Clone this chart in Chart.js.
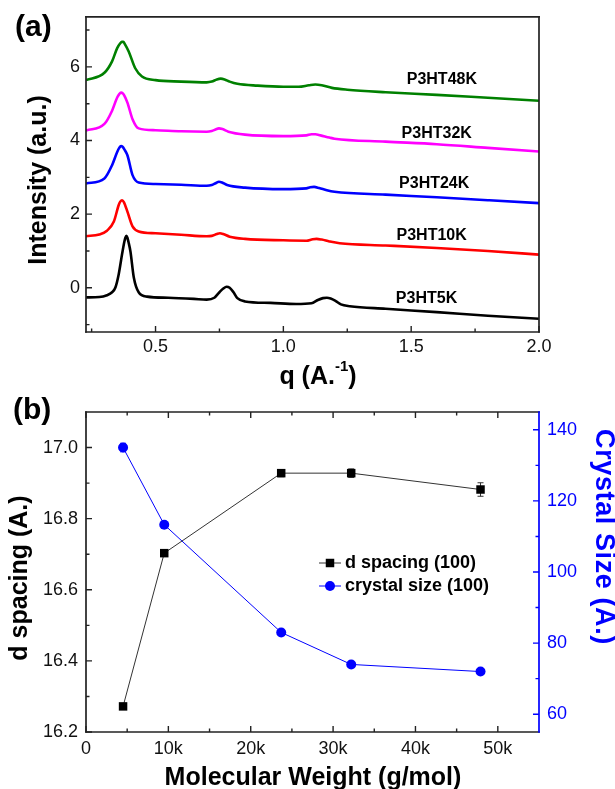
<!DOCTYPE html>
<html>
<head>
<meta charset="utf-8">
<title>P3HT WAXS</title>
<script src="https://cdn.jsdelivr.net/npm/chart.js@4.4.1/dist/chart.umd.min.js"></script>
<style>
  html, body { margin: 0; padding: 0; background: #fff; }
  canvas { display: block; }
</style>
</head>
<body>
<canvas id="chartA" width="615" height="390"></canvas>
<canvas id="chartB" width="615" height="399"></canvas>
<script>
(function () {
    'use strict';

    // ---- panel (a): scattering profiles, offset per sample ----
    var q5K  = [0.228, 0.28, 0.31, 0.33, 0.343, 0.356, 0.369, 0.378, 0.382, 0.386, 0.390, 0.394, 0.402, 0.415, 0.434, 0.467, 0.55, 0.65, 0.7, 0.73, 0.75, 0.765, 0.778, 0.79, 0.805, 0.82, 0.85, 0.95, 1.05, 1.11, 1.135, 1.155, 1.17, 1.185, 1.205, 1.225, 1.26, 1.4, 1.6, 1.8, 2.0];
    var i5K  = [-0.26, -0.25, -0.2, -0.12, 0.01, 0.37, 0.91, 1.25, 1.36, 1.41, 1.36, 1.25, 0.98, 0.28, -0.12, -0.24, -0.27, -0.30, -0.32, -0.27, -0.12, -0.02, 0.03, 0.0, -0.12, -0.28, -0.37, -0.41, -0.44, -0.42, -0.33, -0.28, -0.27, -0.29, -0.36, -0.45, -0.50, -0.57, -0.66, -0.76, -0.84];
    var q10K = [0.228, 0.28, 0.31, 0.337, 0.356, 0.362, 0.369, 0.376, 0.39, 0.41, 0.434, 0.5, 0.6, 0.7, 0.72, 0.74, 0.752, 0.765, 0.79, 0.85, 1.0, 1.09, 1.115, 1.13, 1.15, 1.18, 1.22, 1.4, 1.6, 1.8, 2.0];
    var i10K = [1.40, 1.45, 1.55, 1.80, 2.25, 2.34, 2.38, 2.33, 2.07, 1.67, 1.53, 1.48, 1.44, 1.40, 1.41, 1.46, 1.48, 1.46, 1.39, 1.33, 1.29, 1.28, 1.32, 1.33, 1.31, 1.26, 1.21, 1.15, 1.08, 1.00, 0.90];
    var q24K = [0.228, 0.30, 0.33, 0.35, 0.358, 0.365, 0.371, 0.378, 0.39, 0.41, 0.434, 0.5, 0.6, 0.7, 0.72, 0.735, 0.748, 0.76, 0.78, 0.85, 1.0, 1.09, 1.105, 1.12, 1.14, 1.17, 1.2, 1.4, 1.6, 1.8, 2.0];
    var i24K = [2.83, 2.97, 3.33, 3.69, 3.80, 3.85, 3.83, 3.76, 3.60, 3.06, 2.86, 2.82, 2.80, 2.77, 2.79, 2.84, 2.88, 2.86, 2.79, 2.72, 2.68, 2.70, 2.73, 2.74, 2.71, 2.65, 2.61, 2.53, 2.46, 2.38, 2.30];
    var q32K = [0.228, 0.30, 0.33, 0.35, 0.358, 0.365, 0.372, 0.378, 0.39, 0.41, 0.434, 0.5, 0.6, 0.7, 0.72, 0.735, 0.748, 0.762, 0.785, 0.85, 1.0, 1.09, 1.11, 1.125, 1.145, 1.18, 1.2, 1.4, 1.6, 1.8, 2.0];
    var i32K = [4.27, 4.45, 4.81, 5.17, 5.26, 5.30, 5.28, 5.22, 5.03, 4.58, 4.33, 4.28, 4.25, 4.24, 4.26, 4.30, 4.33, 4.31, 4.24, 4.16, 4.12, 4.14, 4.17, 4.17, 4.14, 4.08, 4.05, 3.97, 3.90, 3.80, 3.70];
    var q48K = [0.228, 0.30, 0.33, 0.35, 0.362, 0.368, 0.374, 0.38, 0.395, 0.42, 0.447, 0.5, 0.6, 0.7, 0.72, 0.74, 0.755, 0.77, 0.79, 0.82, 0.9, 1.0, 1.06, 1.1, 1.125, 1.15, 1.19, 1.25, 1.4, 1.6, 1.8, 2.0];
    var i48K = [5.64, 5.84, 6.15, 6.51, 6.64, 6.68, 6.68, 6.62, 6.42, 5.97, 5.74, 5.64, 5.60, 5.58, 5.60, 5.66, 5.68, 5.66, 5.60, 5.54, 5.49, 5.46, 5.46, 5.50, 5.52, 5.50, 5.43, 5.38, 5.31, 5.24, 5.16, 5.08];

    var sampleNames  = ['P3HT5K', 'P3HT10K', 'P3HT24K', 'P3HT32K', 'P3HT48K'];
    var sampleColors = ['#000000', '#ff0000', '#0000ff', '#ff00ff', '#008000'];
    var sampleLabelQ = [1.56, 1.58, 1.59, 1.60, 1.62];
    var sampleLabelI = [-0.29, 1.43, 2.82, 4.19, 5.65];

    var qTicks = [0.5, 1.0, 1.5, 2.0];
    var qMinorTicks = [0.25, 0.75, 1.25, 1.75];
    var intTicks = [0, 2, 4, 6];
    var intMinorTicks = [-1, 1, 3, 5, 7];

    // ---- panel (b): d spacing and crystal size vs molecular weight ----
    var molWeight = [4500, 9500, 23700, 32200, 47900];
    var dSpacing = [16.272, 16.703, 16.928, 16.928, 16.882];
    var dSpacingErr = [0.004, 0.005, 0.01, 0.012, 0.019];
    var crystalSize = [135.0, 113.3, 83.0, 74.0, 72.0];
    var crystalSizeErr = [1.2, 0.8, 0.6, 0.6, 0.6];

    var mwTicks = [0, 10000, 20000, 30000, 40000, 50000];
    var mwMinorTicks = [5000, 15000, 25000, 35000, 45000];
    var dTicks = [16.2, 16.4, 16.6, 16.8, 17.0];
    var dMinorTicks = [16.3, 16.5, 16.7, 16.9];
    var sizeTicks = [60, 80, 100, 120, 140];
    var sizeMinorTicks = [70, 90, 110, 130];

    var FONT = "'Liberation Sans', Arial, sans-serif";
    Chart.defaults.font.family = FONT;
    Chart.defaults.color = '#111';

    ////////////////////////////////////////////

    function points(xs, ys) {
        return xs.map(function (x, i) { return { x: x, y: ys[i] }; });
    }

    function useTicks(values) {
        return function (scale) {
            scale.ticks = values.map(function (v) { return { value: v }; });
        };
    }

    function fixSize(size) {
        return function (scale) {
            if (scale.isHorizontal()) scale.height = size;
            else scale.width = size;
        };
    }

    // frame + inward ticks, Origin style
    function originAxes(spec) {
        return {
            id: 'originAxes',
            afterDatasetsDraw: function (chart) {
                var ctx = chart.ctx, a = chart.chartArea;
                ctx.save();
                ctx.lineWidth = 1.4;
                spec.ticks.forEach(function (t) {
                    var scale = chart.scales[t.scale];
                    ctx.strokeStyle = t.color;
                    ctx.beginPath();
                    [[t.major, 6], [t.minor, 3.5]].forEach(function (set) {
                        set[0].forEach(function (v) {
                            var p = scale.getPixelForValue(v);
                            if (t.side === 'bottom') { ctx.moveTo(p, a.bottom); ctx.lineTo(p, a.bottom - set[1]); }
                            if (t.side === 'top') { ctx.moveTo(p, a.top); ctx.lineTo(p, a.top + set[1]); }
                            if (t.side === 'left') { ctx.moveTo(a.left, p); ctx.lineTo(a.left + set[1], p); }
                            if (t.side === 'right') { ctx.moveTo(a.right, p); ctx.lineTo(a.right - set[1], p); }
                        });
                    });
                    ctx.stroke();
                });
                ctx.lineWidth = 1.7;
                ctx.lineCap = 'square';
                spec.edges.forEach(function (e) {
                    ctx.strokeStyle = e.color;
                    ctx.beginPath();
                    if (e.side === 'top') { ctx.moveTo(a.left, a.top); ctx.lineTo(a.right, a.top); }
                    if (e.side === 'bottom') { ctx.moveTo(a.left, a.bottom); ctx.lineTo(a.right, a.bottom); }
                    if (e.side === 'left') { ctx.moveTo(a.left, a.top); ctx.lineTo(a.left, a.bottom); }
                    if (e.side === 'right') { ctx.moveTo(a.right, a.top); ctx.lineTo(a.right, a.bottom); }
                    ctx.stroke();
                });
                ctx.restore();
            }
        };
    }

    function drawText(ctx, it) {
        ctx.save();
        ctx.fillStyle = it.color || '#000';
        ctx.textBaseline = it.baseline || 'alphabetic';
        if (it.spacing) ctx.letterSpacing = it.spacing;
        ctx.translate(it.x, it.y);
        if (it.rotate) ctx.rotate(it.rotate);
        var parts = it.parts || [{ text: it.text, font: it.font, dy: 0 }];
        var total = 0;
        parts.forEach(function (p) { ctx.font = p.font; total += ctx.measureText(p.text).width; });
        var x = it.align === 'left' ? 0 : -total / 2;
        ctx.textAlign = 'left';
        parts.forEach(function (p) {
            ctx.font = p.font;
            ctx.fillText(p.text, x, p.dy || 0);
            x += ctx.measureText(p.text).width;
        });
        ctx.restore();
    }

    function panelText(items) {
        return {
            id: 'panelText',
            afterDraw: function (chart) {
                items.forEach(function (it) { drawText(chart.ctx, it); });
            }
        };
    }

    var sampleLabels = {
        id: 'sampleLabels',
        afterDatasetsDraw: function (chart) {
            var ctx = chart.ctx, xs = chart.scales.x, ys = chart.scales.y;
            ctx.save();
            ctx.font = 'bold 16px ' + FONT;
            ctx.fillStyle = '#000';
            ctx.textAlign = 'center';
            ctx.textBaseline = 'middle';
            sampleNames.forEach(function (name, i) {
                ctx.fillText(name, xs.getPixelForValue(sampleLabelQ[i]), ys.getPixelForValue(sampleLabelI[i]));
            });
            ctx.restore();
        }
    };

    var errorBars = {
        id: 'errorBars',
        beforeDatasetsDraw: function (chart) {
            var ctx = chart.ctx;
            ctx.save();
            ctx.lineWidth = 1;
            chart.data.datasets.forEach(function (ds, i) {
                if (!ds.errors) return;
                var ys = chart.scales[ds.yAxisID];
                ctx.strokeStyle = ds.borderColor;
                ctx.beginPath();
                chart.getDatasetMeta(i).data.forEach(function (pt, j) {
                    var top = ys.getPixelForValue(ds.data[j].y + ds.errors[j]);
                    var bot = ys.getPixelForValue(ds.data[j].y - ds.errors[j]);
                    ctx.moveTo(pt.x, top); ctx.lineTo(pt.x, bot);
                    ctx.moveTo(pt.x - 3, top); ctx.lineTo(pt.x + 3, top);
                    ctx.moveTo(pt.x - 3, bot); ctx.lineTo(pt.x + 3, bot);
                });
                ctx.stroke();
            });
            ctx.restore();
        }
    };

    var insideLegend = {
        id: 'insideLegend',
        afterDraw: function (chart) {
            var ctx = chart.ctx;
            var rows = [173, 196];
            ctx.save();
            chart.data.datasets.forEach(function (ds, i) {
                var y = rows[i];
                ctx.strokeStyle = ds.borderColor;
                ctx.lineWidth = 1;
                ctx.beginPath();
                ctx.moveTo(319, y); ctx.lineTo(341, y);
                ctx.stroke();
                ctx.fillStyle = ds.pointBackgroundColor;
                Chart.helpers.drawPoint(ctx, { pointStyle: ds.pointStyle, radius: ds.pointRadius, borderWidth: 0, rotation: 0 }, 330, y);
                ctx.fillStyle = '#000';
                ctx.font = 'bold 18px ' + FONT;
                ctx.textAlign = 'left';
                ctx.textBaseline = 'middle';
                ctx.fillText(ds.label, 345, y);
            });
            ctx.restore();
        }
    };

    ////////////////////////////////////////////

    var profiles = [[q5K, i5K], [q10K, i10K], [q24K, i24K], [q32K, i32K], [q48K, i48K]];

    new Chart(document.getElementById('chartA'), {
        type: 'line',
        data: {
            datasets: profiles.map(function (p, i) {
                return {
                    label: sampleNames[i],
                    data: points(p[0], p[1]),
                    borderColor: sampleColors[i],
                    borderWidth: 2.6,
                    pointRadius: 0,
                    cubicInterpolationMode: 'monotone'
                };
            })
        },
        options: {
            responsive: false,
            animation: false,
            layout: { padding: { top: 13, right: 76, left: 0, bottom: 0 } },
            plugins: { legend: { display: false }, tooltip: { enabled: false } },
            scales: {
                x: {
                    type: 'linear', min: 0.228, max: 2.0,
                    grid: { display: false, drawTicks: false }, border: { display: false },
                    afterBuildTicks: useTicks(qTicks), afterFit: fixSize(58),
                    ticks: { font: { size: 18 }, padding: 4, callback: function (v) { return v.toFixed(1); } }
                },
                y: {
                    min: -1.2, max: 7.36,
                    grid: { display: false, drawTicks: false }, border: { display: false },
                    afterBuildTicks: useTicks(intTicks), afterFit: fixSize(86),
                    ticks: { font: { size: 18 }, padding: 6 }
                }
            }
        },
        plugins: [
            originAxes({
                ticks: [
                    { scale: 'x', side: 'bottom', color: '#222', major: qTicks, minor: qMinorTicks },
                    { scale: 'y', side: 'left', color: '#222', major: intTicks, minor: intMinorTicks }
                ],
                edges: [
                    { side: 'top', color: '#222' }, { side: 'right', color: '#222' },
                    { side: 'bottom', color: '#222' }, { side: 'left', color: '#222' }
                ]
            }),
            sampleLabels,
            panelText([
                { text: '(a)', font: 'bold 30px ' + FONT, x: 15, y: 35.5, align: 'left' },
                { text: 'Intensity (a.u.)', font: 'bold 25px ' + FONT, x: 39, y: 180, baseline: 'middle', rotate: -Math.PI / 2 },
                { x: 318, y: 384, parts: [
                    { text: 'q (A.', font: 'bold 25px ' + FONT },
                    { text: '-1', font: 'bold 15px ' + FONT, dy: -13 },
                    { text: ')', font: 'bold 25px ' + FONT }
                ] }
            ])
        ]
    });

    new Chart(document.getElementById('chartB'), {
        type: 'line',
        data: {
            datasets: [{
                label: 'd spacing (100)',
                data: points(molWeight, dSpacing),
                errors: dSpacingErr,
                yAxisID: 'y',
                borderColor: '#333333',
                borderWidth: 1,
                pointStyle: 'rect',
                pointRadius: 6,
                pointBorderWidth: 0,
                pointBackgroundColor: '#000000',
                tension: 0
            }, {
                label: 'crystal size (100)',
                data: points(molWeight, crystalSize),
                errors: crystalSizeErr,
                yAxisID: 'y2',
                borderColor: '#0000ff',
                borderWidth: 1,
                pointStyle: 'circle',
                pointRadius: 5,
                pointBorderWidth: 0,
                pointBackgroundColor: '#0000ff',
                tension: 0
            }]
        },
        options: {
            responsive: false,
            animation: false,
            layout: { padding: { top: 22, right: 0, left: 0, bottom: 0 } },
            plugins: { legend: { display: false }, tooltip: { enabled: false } },
            scales: {
                x: {
                    type: 'linear', min: 0, max: 55000,
                    grid: { display: false, drawTicks: false }, border: { display: false },
                    afterBuildTicks: useTicks(mwTicks), afterFit: fixSize(57),
                    ticks: { font: { size: 18 }, padding: 6, callback: function (v) { return v === 0 ? '0' : (v / 1000) + 'k'; } }
                },
                y: {
                    position: 'left', min: 16.2, max: 17.1,
                    grid: { display: false, drawTicks: false }, border: { display: false },
                    afterBuildTicks: useTicks(dTicks), afterFit: fixSize(86),
                    ticks: { font: { size: 18 }, padding: 8, callback: function (v) { return v.toFixed(1); } }
                },
                y2: {
                    position: 'right', min: 55, max: 145,
                    grid: { display: false, drawTicks: false }, border: { display: false },
                    afterBuildTicks: useTicks(sizeTicks), afterFit: fixSize(76),
                    ticks: { font: { size: 18 }, padding: 8, color: '#0000ff' }
                }
            }
        },
        plugins: [
            errorBars,
            originAxes({
                ticks: [
                    { scale: 'x', side: 'bottom', color: '#222', major: mwTicks, minor: mwMinorTicks },
                    { scale: 'x', side: 'top', color: '#222', major: mwTicks, minor: mwMinorTicks },
                    { scale: 'y', side: 'left', color: '#222', major: dTicks, minor: dMinorTicks },
                    { scale: 'y2', side: 'right', color: '#0000ff', major: sizeTicks, minor: sizeMinorTicks }
                ],
                edges: [
                    { side: 'top', color: '#222' }, { side: 'bottom', color: '#222' },
                    { side: 'left', color: '#222' }, { side: 'right', color: '#0000ff' }
                ]
            }),
            insideLegend,
            panelText([
                { text: '(b)', font: 'bold 30px ' + FONT, x: 13, y: 28.7, align: 'left' },
                { text: 'Molecular Weight (g/mol)', font: 'bold 25px ' + FONT, x: 313, y: 395 },
                { text: 'd spacing (A.)', font: 'bold 25px ' + FONT, x: 20.5, y: 188, baseline: 'middle', rotate: -Math.PI / 2 },
                { text: 'Crystal Size (A.)', font: 'bold 27px ' + FONT, x: 603, y: 147, baseline: 'middle', rotate: Math.PI / 2, color: '#0000ff', spacing: '0.6px' }
            ])
        ]
    });

})();
</script>
</body>
</html>
